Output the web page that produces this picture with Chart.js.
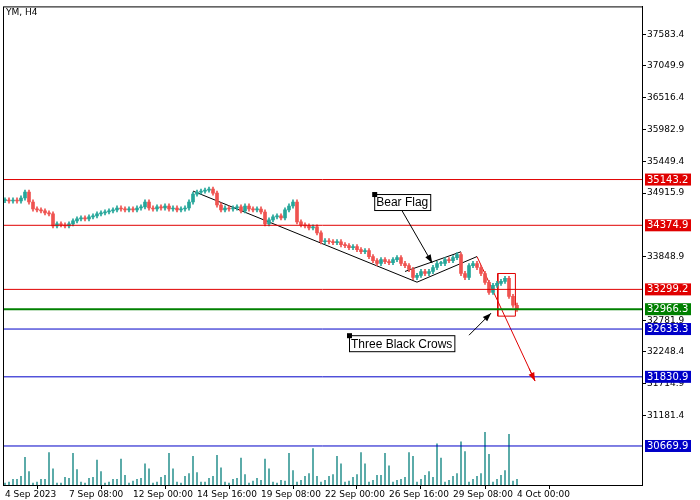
<!DOCTYPE html>
<html>
<head>
<meta charset="utf-8">
<script src="https://cdn.jsdelivr.net/npm/chart.js@4.4.1/dist/chart.umd.min.js"></script>
<style>
  body { margin: 0; background: #fff; }
  #wrap { width: 700px; height: 500px; }
</style>
</head>
<body>
<div id="wrap"><canvas id="c"></canvas></div>
<script>
// YM, H4 - candles, volumes and hand drawn levels
const closes = [34800, 34783, 34800, 34783, 34833, 34933, 34766, 34649, 34633, 34616,
  34583, 34566, 34366, 34399, 34383, 34366, 34399, 34449, 34483, 34499,
  34483, 34516, 34533, 34566, 34583, 34599, 34616, 34633, 34666, 34649,
  34633, 34649, 34633, 34666, 34683, 34766, 34666, 34649, 34683, 34666,
  34699, 34649, 34666, 34633, 34649, 34666, 34766, 34899, 34933, 34949,
  34966, 34983, 34916, 34716, 34633, 34666, 34649, 34666, 34683, 34616,
  34699, 34649, 34633, 34649, 34599, 34399, 34466, 34516, 34533, 34499,
  34633, 34699, 34766, 34433, 34383, 34366, 34333, 34349, 34249, 34099,
  34116, 34099, 34083, 34099, 34049, 34033, 33999, 34016, 33966, 33933,
  33949, 33849, 33783, 33733, 33799, 33766, 33749, 33799, 33833, 33733,
  33699, 33633, 33499, 33533, 33599, 33566, 33599, 33666, 33733, 33733,
  33799, 33783, 33833, 33883, 33566, 33499, 33699, 33733, 33666, 33566,
  33416, 33249, 33366, 33399, 33433, 33483, 33183, 33033, 32966];
const firstOpen = 34790;
const volumes = [2, 3, 6, 6, 9, 29, 14, 2, 3, 6, 6, 34, 17, 2, 2, 8, 7, 33, 16, 3,
  2, 7, 8, 26, 14, 2, 3, 6, 6, 27, 10, 2, 4, 6, 7, 22, 17, 2, 3, 8,
  10, 33, 17, 3, 2, 9, 12, 30, 13, 3, 3, 7, 9, 31, 18, 3, 2, 6, 7, 28,
  11, 2, 4, 7, 5, 27, 17, 3, 2, 5, 4, 33, 15, 3, 5, 9, 12, 38, 9, 3,
  5, 9, 11, 30, 22, 3, 4, 8, 11, 34, 22, 3, 5, 10, 10, 33, 20, 3, 5, 6,
  8, 34, 30, 3, 6, 10, 14, 8, 43, 28, 3, 5, 9, 12, 45, 35, 3, 6, 9, 12,
  55, 32, 3, 6, 10, 15, 53, 4, 6];
const dateLabels = ['4 Sep 2023', '7 Sep 08:00', '12 Sep 00:00', '14 Sep 16:00', '19 Sep 08:00',
  '22 Sep 00:00', '26 Sep 16:00', '29 Sep 08:00', '4 Oct 00:00'];
const dateIndex = [0, 16, 32, 48, 64, 80, 96, 112, 128];
const priceTicks = [37583.4, 37049.9, 36516.4, 35982.9, 35449.4, 34915.9, 33848.9,
  32781.9, 32248.4, 31714.9, 31181.4];
const levels = [35143.2, 34374.9, 33299.2, 32966.3, 32633.3, 31830.9, 30669.9];
const levelColors = ['#e00000', '#e00000', '#e00000', '#008000', '#0000c8', '#0000c8', '#0000c8'];
// drawn objects, in bar index / price
const trendLine = [{x: 47, y: 34949}, {x: 103, y: 33420}];
const flagLow = [{x: 103, y: 33420}, {x: 118, y: 33850}];
const flagHigh = [{x: 100, y: 33600}, {x: 114, y: 33930}];
const dropLine = [{x: 118, y: 33850}, {x: 132.5, y: 31760}];
const crowsBox = [{x: 123.2, y: 33566}, {x: 123.2, y: 32850}, {x: 127.6, y: 32850}, {x: 127.6, y: 33566}, {x: 123.2, y: 33566}];

const X_MIN = -0.5, X_MAX = 159.25;
const UP = '#26a69a', DOWN = '#ef5350';

const opens = closes.map((c, i) => i === 0 ? firstOpen : closes[i - 1]);
const bodies = closes.map((c, i) => ({x: i, y: [opens[i], c]}));
const wicks = closes.map((c, i) => ({x: i, y: [Math.min(opens[i], c) - 35, Math.max(opens[i], c) + 35]}));
const candleColors = closes.map((c, i) => c >= opens[i] ? UP : DOWN);

const lineSet = (data, color, width) => ({
  type: 'line', data: data, borderColor: color, borderWidth: width || 1,
  pointRadius: 0, fill: false, yAxisID: 'y', tension: 0
});

const datasets = [];
levels.forEach((lv, i) => {
  datasets.push(lineSet([{x: X_MIN, y: lv}, {x: X_MAX, y: lv}], levelColors[i], i === 3 ? 2 : 1));
});
datasets.push({
  type: 'bar', data: volumes.map((v, i) => ({x: i, y: v})), backgroundColor: '#3a9a98',
  barThickness: 1, yAxisID: 'vol'
});
datasets.push({
  type: 'bar', data: wicks, backgroundColor: candleColors, barThickness: 1,
  yAxisID: 'y', grouped: false
});
datasets.push({
  type: 'bar', data: bodies, backgroundColor: candleColors, barThickness: 3,
  minBarLength: 1, yAxisID: 'y', grouped: false
});
datasets.push(lineSet(trendLine, '#000'));
datasets.push(lineSet(flagLow, '#000'));
datasets.push(lineSet(flagHigh, '#000'));
datasets.push(lineSet(dropLine, '#e00000'));
datasets.push(lineSet(crowsBox, '#e00000'));

function arrow(ctx, x1, y1, x2, y2, color) {
  ctx.strokeStyle = color; ctx.fillStyle = color; ctx.lineWidth = 1;
  ctx.beginPath(); ctx.moveTo(x1, y1); ctx.lineTo(x2, y2); ctx.stroke();
  const a = Math.atan2(y2 - y1, x2 - x1), l = 9;
  ctx.beginPath(); ctx.moveTo(x2, y2);
  ctx.lineTo(x2 - l * Math.cos(a - 0.35), y2 - l * Math.sin(a - 0.35));
  ctx.lineTo(x2 - l * Math.cos(a + 0.35), y2 - l * Math.sin(a + 0.35));
  ctx.closePath(); ctx.fill();
}

function textBox(ctx, x, y, text) {
  ctx.font = '12px "Liberation Sans"';
  const w = ctx.measureText(text).width + 4;
  ctx.fillStyle = '#fff'; ctx.fillRect(x, y, w, 16);
  ctx.strokeStyle = '#000'; ctx.strokeRect(x + 0.5, y + 0.5, w, 16);
  ctx.fillStyle = '#000'; ctx.textBaseline = 'middle'; ctx.textAlign = 'left';
  ctx.fillText(text, x + 2, y + 9);
  ctx.fillRect(x - 2, y - 2, 5, 5);
}

const overlay = {
  id: 'overlay',
  afterDraw(chart) {
    const ctx = chart.ctx, xs = chart.scales.x, ys = chart.scales.y, a = chart.chartArea;
    ctx.save();
    ctx.strokeStyle = '#000'; ctx.lineWidth = 1;
    ctx.strokeRect(a.left + 0.5, a.top + 0.5, a.right - a.left, a.bottom - a.top);
    // end of the drop line
    const p1 = {x: xs.getPixelForValue(dropLine[0].x), y: ys.getPixelForValue(dropLine[0].y)};
    const p2 = {x: xs.getPixelForValue(dropLine[1].x), y: ys.getPixelForValue(dropLine[1].y)};
    arrow(ctx, p1.x + (p2.x - p1.x) * 0.9, p1.y + (p2.y - p1.y) * 0.9, p2.x, p2.y, '#e00000');
    // labels with arrows
    const bx = xs.getPixelForValue(92.3), by = ys.getPixelForValue(34900);
    arrow(ctx, bx + 28, by + 17, xs.getPixelForValue(106.8), ys.getPixelForValue(33740), '#000');
    textBox(ctx, bx, by, 'Bear Flag');
    const cx = xs.getPixelForValue(86), cy = ys.getPixelForValue(32530);
    arrow(ctx, cx + 120, cy, xs.getPixelForValue(121.5), ys.getPixelForValue(32900), '#000');
    textBox(ctx, cx, cy, 'Three Black Crows');
    // price labels on the right axis
    ctx.font = '10px "DejaVu Sans"'; ctx.textBaseline = 'middle'; ctx.textAlign = 'left';
    levels.forEach((lv, i) => {
      const y = ys.getPixelForValue(lv);
      ctx.fillStyle = levelColors[i];
      ctx.fillRect(a.right + 3, y - 6, 46, 12);
      ctx.fillStyle = '#fff';
      ctx.fillText(lv.toFixed(1), a.right + 5, y + 0.5);
    });
    ctx.fillStyle = '#000'; ctx.font = '9px "DejaVu Sans"'; ctx.textBaseline = 'top';
    ctx.fillText('YM, H4', a.left + 3, a.top + 2);
    ctx.restore();
  }
};

new Chart(document.getElementById('c'), {
  data: {datasets: datasets},
  options: {
    responsive: true,
    maintainAspectRatio: false,
    animation: false,
    layout: {padding: {left: 3, top: 3, right: 0, bottom: 0}},
    plugins: {legend: {display: false}, tooltip: {enabled: false}},
    scales: {
      x: {
        type: 'linear', min: X_MIN, max: X_MAX, offset: false,
        afterBuildTicks: s => { s.ticks = dateIndex.map(v => ({value: v})); },
        afterFit: s => { s.height = 15; },
        ticks: {
          autoSkip: false, maxRotation: 0, align: 'start', padding: 0,
          color: '#000', font: {size: 9, family: 'DejaVu Sans'},
          callback: (v) => dateLabels[dateIndex.indexOf(v)]
        },
        grid: {drawOnChartArea: false, tickLength: 4, color: '#000'},
        border: {color: '#000'}
      },
      y: {
        position: 'right', min: 30015, max: 38050,
        afterBuildTicks: s => { s.ticks = priceTicks.map(v => ({value: v})); },
        afterFit: s => { s.width = 58; },
        ticks: {
          color: '#000', font: {size: 9, family: 'DejaVu Sans'}, padding: 1,
          callback: v => v.toFixed(1)
        },
        grid: {drawOnChartArea: false, tickLength: 4, color: '#000'},
        border: {color: '#000'}
      },
      vol: {display: false, min: 0, max: 500}
    }
  },
  plugins: [overlay]
});
</script>
</body>
</html>
